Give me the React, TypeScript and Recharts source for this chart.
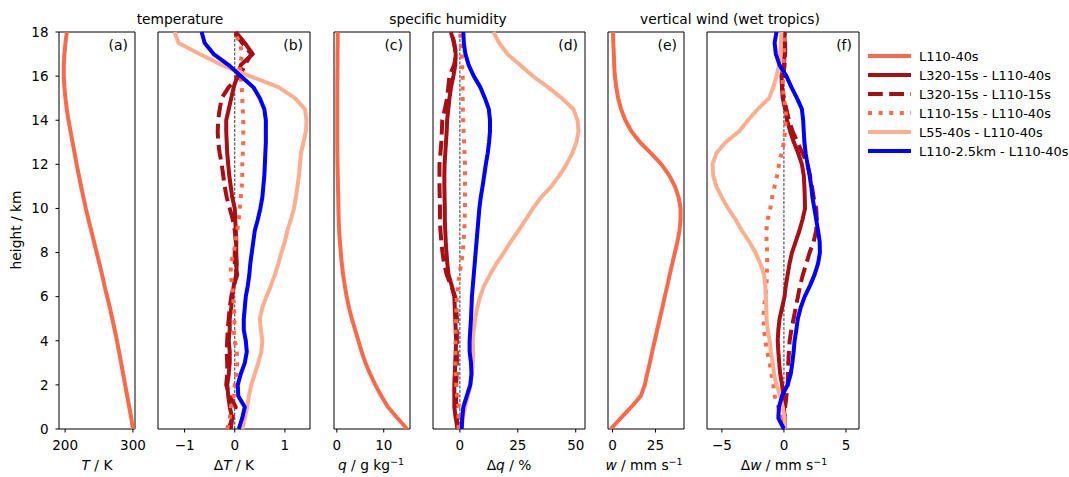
import { LineChart, Line, XAxis, YAxis, ReferenceLine, ReferenceArea } from "recharts";

const HEIGHTS = [
  0, 0.5, 1, 1.5, 2, 2.5, 3, 3.5, 4, 4.5, 5, 5.5, 6, 6.5, 7, 7.5, 8, 8.5, 9,
  9.5, 10, 10.5, 11, 11.5, 12, 12.5, 13, 13.5, 14, 14.5, 15, 15.5, 16, 16.5, 17,
  17.5, 18,
];

// (a) temperature, K
const T_CTRL = [
  300, 297.5, 294.5, 291.5, 288.5, 285.5, 282.5, 279.5, 276.5, 273, 269.5, 266,
  262, 258, 254.5, 250.5, 246.5, 242.5, 238.5, 234.5, 230.5, 227, 223.5, 220.2,
  217, 214, 211, 208, 205, 202.5, 200.5, 199, 198, 198, 199, 200.5, 202.5,
];

// (b) temperature differences, K
const DT_L320_L110_40 = [
  -0.08, -0.05, -0.1, -0.13, -0.15, -0.12, -0.1, -0.1, -0.12, -0.1, -0.1, -0.07,
  -0.05, -0.02, 0.03, 0.04, 0.03, 0.03, 0.02, 0.01, 0, -0.05, -0.08, -0.11,
  -0.13, -0.15, -0.16, -0.17, -0.17, -0.12, -0.07, -0.02, 0.05, 0.12, 0.36, 0.2,
  0.02,
];
const DT_L320_L110_15 = [
  -0.12, -0.05, 0.02, -0.1, -0.17, -0.15, -0.15, -0.16, -0.15, -0.14, -0.12,
  -0.1, -0.07, -0.02, 0.05, 0, 0, 0.02, 0, -0.04, -0.1, -0.16, -0.2, -0.23,
  -0.26, -0.3, -0.33, -0.34, -0.33, -0.3, -0.26, -0.12, 0.1, 0.2, 0.33, 0.15, 0,
];
const DT_L110_15 = [
  -0.15, -0.1, -0.08, -0.02, 0, 0.03, 0.05, 0.04, 0, -0.02, 0, -0.02, -0.03,
  -0.05, -0.08, -0.08, -0.02, 0.02, 0.05, 0.08, 0.1, 0.12, 0.14, 0.15, 0.15,
  0.16, 0.17, 0.17, 0.17, 0.16, 0.15, 0.14, 0.12, 0.1, 0.15, 0.1, 0,
];
const DT_L55 = [
  0.15, 0.2, 0.25, 0.28, 0.33, 0.4, 0.47, 0.53, 0.55, 0.52, 0.5, 0.55, 0.63,
  0.72, 0.8, 0.87, 0.93, 1.0, 1.05, 1.12, 1.18, 1.22, 1.25, 1.28, 1.3, 1.32,
  1.37, 1.42, 1.43, 1.4, 1.2, 0.87, 0.3, -0.25, -0.7, -1.12, -1.2,
];
const DT_L110_25KM = [
  0.08, 0.15, 0.2, 0.07, 0.06, 0.12, 0.2, 0.24, 0.22, 0.18, 0.18, 0.2, 0.22,
  0.26, 0.29, 0.31, 0.34, 0.37, 0.4, 0.46, 0.51, 0.55, 0.57, 0.59, 0.6, 0.61,
  0.62, 0.62, 0.62, 0.59, 0.5, 0.37, 0.12, -0.12, -0.42, -0.6, -0.66,
];

// (c) specific humidity, g/kg
const Q_CTRL = [
  15, 12.9, 10.9, 9.5, 8.2, 7.1, 6.1, 5.3, 4.6, 3.9, 3.2, 2.6, 2.1, 1.7, 1.35,
  1.05, 0.85, 0.65, 0.5, 0.4, 0.35, 0.3, 0.25, 0.2, 0.15, 0.12, 0.1, 0.1, 0.1,
  0.1, 0.1, 0.1, 0.12, 0.15, 0.15, 0.18, 0.2,
];

// (d) specific humidity differences, %
const DQ_L320_L110_40 = [
  -1, -1.8, -2.4, -2.4, -2.4, -2.2, -2, -1.8, -1.6, -1.8, -2, -2.2, -2.4, -3.5,
  -4.9, -5.4, -5.8, -6.1, -6.3, -6.5, -6.5, -6.6, -6.7, -6.7, -6.6, -6.3, -6,
  -5.7, -5.5, -5, -4.5, -3.8, -2.8, -2, -1.8, -2.5, -3.9,
];
const DQ_L320_L110_15 = [
  -1, -1.3, -1.6, -1.6, -1.6, -1.4, -1.3, -1.3, -1.3, -1.3, -1.3, -1.6, -2,
  -3.8, -5.7, -6.8, -7.5, -8, -8.4, -8.6, -8.6, -8.7, -8.8, -8.8, -8.8, -8.4,
  -8, -7.8, -7.6, -6.5, -5.5, -5, -4.5, -2.5, -1.6, -2.5, -3.4,
];
const DQ_L110_15 = [
  -0.6, -0.6, -0.6, -1.2, -1.6, -1.8, -1.9, -1.9, -1.9, -1.8, -1.6, -1.5, -1.3,
  -0.8, -0.2, 0.6, 1.2, 1.6, 1.9, 2.1, 2.2, 2.2, 2.2, 2.2, 2.2, 2.0, 1.8, 1.6,
  1.4, 1.3, 1.2, 1.2, 1.2, 1.0, 0.8, 0.4, 0.1,
];
const DQ_L55 = [
  0.5, 1.3, 2.3, 3.5, 4.5, 5.2, 5.6, 5.7, 5.6, 6, 6.6, 7.5, 8.7, 10.5, 13, 15.8,
  19, 22, 25.3, 28.5, 31.5, 35, 39.5, 43, 46, 48.5, 50.3, 51.2, 50.8, 49, 44,
  38, 31.5, 26, 20.5, 17, 14.5,
];
const DQ_L110_25KM = [
  0.8, 1, 1.5, 3, 4.5, 5, 4.8, 4.2, 4.2, 4.5, 4.8, 5, 5.2, 5.6, 6, 6.4, 6.8,
  7.2, 7.6, 8, 8.4, 9, 9.8, 10.5, 11.2, 12, 12.6, 13, 13, 12.5, 10.8, 8.8, 6,
  3.8, 2.4, 1.7, 1.5,
];

// (e) vertical wind, mm/s
const W_CTRL = [
  -1, 5, 11, 16.5, 18.8, 20.2, 21.7, 23.1, 24.6, 26, 27.5, 29, 30.4, 31.9, 33.3,
  34.8, 36.3, 37.8, 39, 39.6, 39.6, 38.5, 36.3, 33, 28.5, 22.5, 16, 11, 7.5, 5,
  3.3, 2.2, 1.4, 1, 0.8, 0.5, 0.3,
];

// (f) vertical wind differences, mm/s
const DW_L320_L110_40 = [
  0.05, 0.05, 0, -0.05, -0.15, -0.3, -0.38, -0.45, -0.5, -0.45, -0.35, -0.15,
  0.05, 0.15, 0.3, 0.45, 0.65, 0.95, 1.25, 1.5, 1.7, 1.68, 1.65, 1.6, 1.45,
  1.15, 0.8, 0.5, 0.25, 0.1, -0.1, -0.15, -0.2, 0, 0.05, 0.05, 0.05,
];
const DW_L320_L110_15 = [
  0, 0.05, 0.1, 0.2, 0.3, 0.32, 0.35, 0.4, 0.46, 0.6, 0.78, 0.95, 1.13, 1.3,
  1.53, 1.8, 2.07, 2.4, 2.6, 2.65, 2.6, 2.4, 2.25, 2.1, 1.9, 1.5, 1.1, 0.7, 0.4,
  0.2, 0, -0.15, -0.05, 0.05, 0.1, 0.1, 0.05,
];
const DW_L110_15 = [
  0.05, -0.1, -0.45, -0.75, -0.85, -1.0, -1.15, -1.35, -1.5, -1.6, -1.65, -1.6,
  -1.5, -1.4, -1.38, -1.35, -1.35, -1.4, -1.42, -1.3, -1.1, -0.95, -0.75, -0.55,
  -0.4, -0.2, 0, 0.1, 0.15, 0.15, 0, -0.1, -0.1, -0.05, 0, 0, 0,
];
const DW_L55 = [
  0.05, 0.05, -0.1, -0.3, -0.6, -0.8, -0.9, -1.05, -1.15, -1.3, -1.4, -1.42,
  -1.45, -1.5, -1.6, -1.9, -2.3, -2.8, -3.4, -3.9, -4.5, -5, -5.45, -5.7, -5.75,
  -5.45, -4.7, -3.6, -2.9, -2.1, -1.2, -0.85, -0.6, -0.4, -0.3, -0.25, -0.2,
];
const DW_L110_25KM = [
  0, -0.45, -0.4, -0.15, 0.3, 0.55, 0.68, 0.78, 0.86, 1.0, 1.12, 1.35, 1.67,
  2.1, 2.47, 2.75, 2.9, 2.88, 2.75, 2.6, 2.45, 2.3, 2.2, 2.07, 1.9, 1.75, 1.65,
  1.6, 1.55, 1.45, 1.05, 0.6, 0.2, -0.35, -0.65, -0.75, -0.6,
];

const HEIGHT_TICKS = [0, 2, 4, 6, 8, 10, 12, 14, 16, 18];

const SERIES_NAMES = [
  "L110-40s",
  "L320-15s - L110-40s",
  "L320-15s - L110-15s",
  "L110-15s - L110-40s",
  "L55-40s - L110-40s",
  "L110-2.5km - L110-40s",
];

const FONT = "'DejaVu Sans', sans-serif";
const FS_TICK = 13.5;
const FS_LABEL = 13.8;
const FS_LEGEND = 12.9;

const STYLES = [
  { color: "#f96a4a", dash: undefined },
  { color: "#a50f15", dash: undefined },
  { color: "#a50f15", dash: "14.8 6.4" },
  { color: "#fb6a4a", dash: "4 6.6" },
  { color: "#fcae91", dash: undefined },
  { color: "#0000ff", dash: undefined },
];

type Panel = {
  tag: string;
  left: number;
  width: number;
  domain: [number, number];
  ticks: number[];
  series: { style: number; values: number[] }[];
  zero?: boolean;
  yLabels?: boolean;
};

const panels: Panel[] = [
  { tag: "(a)", left: 59, width: 76, domain: [191, 303], ticks: [200, 300], yLabels: true,
    series: [{ style: 0, values: T_CTRL }] },
  { tag: "(b)", left: 158, width: 152, domain: [-1.53, 1.5], ticks: [-1, 0, 1], zero: true,
    series: [
      { style: 1, values: DT_L320_L110_40 },
      { style: 2, values: DT_L320_L110_15 },
      { style: 3, values: DT_L110_15 },
      { style: 4, values: DT_L55 },
      { style: 5, values: DT_L110_25KM },
    ] },
  { tag: "(c)", left: 334, width: 76, domain: [-0.6, 15.6], ticks: [0, 10],
    series: [{ style: 0, values: Q_CTRL }] },
  { tag: "(d)", left: 433, width: 152, domain: [-11.6, 54], ticks: [0, 25, 50], zero: true,
    series: [
      { style: 1, values: DQ_L320_L110_40 },
      { style: 2, values: DQ_L320_L110_15 },
      { style: 3, values: DQ_L110_15 },
      { style: 4, values: DQ_L55 },
      { style: 5, values: DQ_L110_25KM },
    ] },
  { tag: "(e)", left: 608, width: 76, domain: [-2.6, 41.6], ticks: [0, 25],
    series: [{ style: 0, values: W_CTRL }] },
  { tag: "(f)", left: 707, width: 152, domain: [-6.2, 6.05], ticks: [-5, 0, 5], zero: true,
    series: [
      { style: 1, values: DW_L320_L110_40 },
      { style: 2, values: DW_L320_L110_15 },
      { style: 3, values: DW_L110_15 },
      { style: 4, values: DW_L55 },
      { style: 5, values: DW_L110_25KM },
    ] },
];

const TOP = 32;
const BOTTOM = 429;
const YW = 60;
const RIGHT = 16;

const fmt = (v: number) => (v < 0 ? `\u2212${-v}` : `${v}`);
const tickStyle = { fill: "#000", fontSize: FS_TICK, fontFamily: FONT };

function ProfilePanel({ p }: { p: Panel }) {
  const data = HEIGHTS.map((h, i) => {
    const row: Record<string, number> = { h };
    p.series.forEach((s, k) => {
      row["s" + k] = s.values[i];
    });
    return row;
  });
  return (
    <div style={{ position: "absolute", left: p.left - YW, top: 0 }}>
      <LineChart
        layout="vertical"
        width={p.width + YW + RIGHT}
        height={477}
        data={data}
        margin={{ top: TOP, right: RIGHT, bottom: 0, left: 0 }}
      >
        <XAxis
          type="number"
          domain={p.domain}
          ticks={p.ticks}
          allowDataOverflow
          height={477 - BOTTOM}
          tickSize={3.5}
          tickMargin={7.5}
          tickFormatter={fmt}
          tick={tickStyle}
          axisLine={false}
          tickLine={{ stroke: "#000" }}
        />
        <YAxis
          type="number"
          dataKey="h"
          domain={[0, 18]}
          ticks={HEIGHT_TICKS}
          reversed
          width={YW}
          tickSize={3.5}
          tickMargin={7}
          tick={p.yLabels ? tickStyle : false}
          axisLine={false}
          tickLine={{ stroke: "#000" }}
        />
        {p.zero && (
          <ReferenceLine x={0} stroke="#000" strokeWidth={0.8} strokeDasharray="3 1.5" />
        )}
        {p.series.map((s, k) => (
          <Line
            key={k}
            type="linear"
            dataKey={"s" + k}
            stroke={STYLES[s.style].color}
            strokeDasharray={STYLES[s.style].dash}
            strokeWidth={4}
            strokeLinejoin="round"
            dot={false}
            activeDot={false}
            isAnimationActive={false}
          />
        ))}
        <ReferenceArea
          x1={p.domain[0]}
          x2={p.domain[1]}
          y1={0}
          y2={18}
          fill="none"
          fillOpacity={0}
          stroke="#000"
          strokeWidth={1}
          strokeOpacity={1}
        />
      </LineChart>
    </div>
  );
}

export default function App() {
  const legendY = [56, 75, 94, 113, 132, 151];
  return (
    <div style={{ position: "absolute", left: 0, top: 0, width: 1069, height: 477, background: "#fff" }}>
      {panels.map((p) => (
        <ProfilePanel key={p.tag} p={p} />
      ))}
      <svg
        width={1069}
        height={477}
        style={{ position: "absolute", left: 0, top: 0, pointerEvents: "none" }}
        fontFamily={FONT}
        fontSize={FS_LABEL}
      >
        <text x={180} y={24} textAnchor="middle">temperature</text>
        <text x={448} y={24} textAnchor="middle">specific humidity</text>
        <text x={730} y={24} textAnchor="middle">vertical wind (wet tropics)</text>
        {panels.map((p) => (
          <text key={p.tag} x={p.left + p.width - 7} y={49.5} textAnchor="end" fontSize={14}>
            {p.tag}
          </text>
        ))}
        <text x={20.5} y={230} textAnchor="middle" transform="rotate(-90 20.5 230)">
          height / km
        </text>
        <text x={97} y={470} textAnchor="middle">
          <tspan fontStyle="italic">T</tspan> / K
        </text>
        <text x={234} y={470} textAnchor="middle">
          Δ<tspan fontStyle="italic">T</tspan> / K
        </text>
        <text x={371} y={470} textAnchor="middle">
          <tspan fontStyle="italic">q</tspan> / g kg
          <tspan dy={-5} fontSize={9.5}>−1</tspan>
        </text>
        <text x={509} y={470} textAnchor="middle">
          Δ<tspan fontStyle="italic">q</tspan> / %
        </text>
        <text x={644} y={470} textAnchor="middle">
          <tspan fontStyle="italic">w</tspan> / mm s
          <tspan dy={-5} fontSize={9.5}>−1</tspan>
        </text>
        <text x={784} y={470} textAnchor="middle">
          Δ<tspan fontStyle="italic">w</tspan> / mm s
          <tspan dy={-5} fontSize={9.5}>−1</tspan>
        </text>
        {SERIES_NAMES.map((name, i) => (
          <g key={name}>
            <line
              x1={868}
              x2={911}
              y1={legendY[i]}
              y2={legendY[i]}
              stroke={STYLES[i].color}
              strokeWidth={4}
              strokeDasharray={STYLES[i].dash}
            />
            <text x={919} y={legendY[i] + 4.8} fontSize={FS_LEGEND}>{name}</text>
          </g>
        ))}
      </svg>
    </div>
  );
}
